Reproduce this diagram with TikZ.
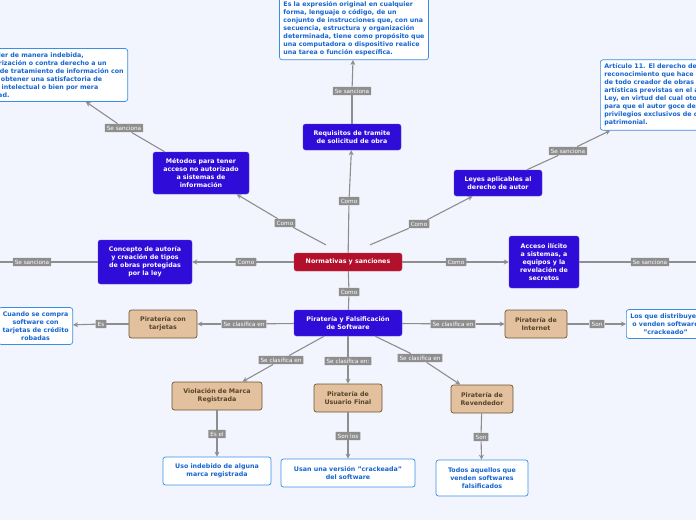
\documentclass[tikz,border=0pt]{standalone}
\usepackage{fontspec}
\setmainfont{DejaVu Sans}
\usetikzlibrary{arrows.meta}
\definecolor{bg}{HTML}{F2F5FE}
\definecolor{lg}{HTML}{8E8E8E}
\definecolor{bl}{HTML}{2F0CD8}
\definecolor{rd}{HTML}{B3102C}
\definecolor{tan}{HTML}{E3C19F}
\definecolor{brn}{HTML}{6B5535}
\definecolor{wb}{HTML}{3A8EE6}
\definecolor{wt}{HTML}{1565D0}
\tikzset{
 base/.style={rounded corners=2.5pt,align=center,font=\fontsize{6.3}{8}\selectfont\bfseries,inner sep=3pt},
 main/.style={base,fill=bl,draw=bl!80!white,text=white},
 root/.style={base,fill=rd,draw=rd!80!white,text=white},
 sub/.style={base,fill=tan,draw=brn,text=brn!80!black,line width=0.7pt},
 leaf/.style={base,fill=white,draw=wb,text=wt,line width=0.7pt,inner sep=4pt},
 lbl/.style={fill=lg,text=white,font=\fontsize{5.7}{6.5}\selectfont,inner sep=2pt,rounded corners=0.5pt},
 edge/.style={draw=lg,line width=1.1pt},
 arr/.style={edge,-{Stealth[length=5pt,width=5pt]}}
}
\begin{document}
\begin{tikzpicture}[x=1pt,y=-1pt]
\useasboundingbox (0,0) rectangle (696,520);
\fill[bg] (0,0) rectangle (696,520);
\clip (0,0) rectangle (696,520);
% nodes
\node[root,minimum width=108,minimum height=18] (c) at (348,262) {Normativas y sanciones};
\node[main,minimum width=98,minimum height=26] (req) at (352,137) {Requisitos de tramite\\de solicitud de obra};
\node[leaf,anchor=south,align=left] (top) at (354,60) {Es la expresión original en cualquier\\forma, lenguaje o código, de un\\conjunto de instrucciones que, con una\\secuencia, estructura y organización\\determinada, tiene como propósito que\\una computadora o dispositivo realice\\una tarea o función específica.};
\node[main,minimum width=96,minimum height=42] (met) at (201,173) {Métodos para tener\\acceso no autorizado\\a sistemas de\\información};
\node[leaf,anchor=east,align=left] (lt) at (128,75) {Es acceder de manera indebida,\\sin autorización o contra derecho a un\\sistema de tratamiento de información con\\el fin de obtener una satisfactoria de\\carácter intelectual o bien por mera\\curiosidad.};
\node[main,minimum width=88,minimum height=26] (ley) at (498,183) {Leyes aplicables al\\derecho de autor};
\node[leaf,anchor=west,align=left] (art) at (600,95) {Artículo 11. El derecho de autor es el\\reconocimiento que hace el Estado a favor\\de todo creador de obras literarias y\\artísticas previstas en el artículo 13 de esta\\Ley, en virtud del cual otorga su protección\\para que el autor goce de prerrogativas y\\privilegios exclusivos de carácter personal y\\patrimonial.};
\node[main,minimum width=94,minimum height=44] (con) at (145,262) {Concepto de autoría\\y creación de tipos\\de obras protegidas\\por la ley};
\node[main,minimum width=70,minimum height=52] (acc) at (544,262) {Acceso ilícito\\a sistemas, a\\equipos y la\\revelación de\\secretos};
\coordinate (le) at (0,262);
\coordinate (re) at (696,262);
\node[main,minimum width=108,minimum height=26] (pf) at (348,323) {Piratería y Falsificación\\de Software};
\node[sub,minimum width=68,minimum height=28] (tar) at (163,324) {Piratería con\\tarjetas};
\node[leaf,anchor=east] (tl) at (73,326) {Cuando se compra\\software con\\tarjetas de crédito\\robadas};
\node[sub,minimum width=62,minimum height=28] (int) at (536,324) {Piratería de\\Internet};
\node[leaf,anchor=west] (il) at (626,324) {Los que distribuyen\\o venden software\\"crackeado"};
\node[sub,minimum width=90,minimum height=28] (vio) at (217,396) {Violación de Marca\\Registrada};
\node[sub,minimum width=68,minimum height=28] (usu) at (348,398) {Piratería de\\Usuario Final};
\node[sub,minimum width=62,minimum height=28] (rev) at (482,399) {Piratería de\\Revendedor};
\node[leaf,minimum width=108,minimum height=28] (vl) at (217,471) {Uso indebido de alguna\\marca registrada};
\node[leaf,minimum width=134,minimum height=28] (ul) at (348,473) {Usan una versión "crackeada"\\del software};
\node[leaf,minimum width=92,minimum height=36] (rl) at (482,478) {Todos aquellos que\\venden softwares\\falsificados};
% labels
\node[lbl] (l1) at (349,201) {Como};
\node[lbl] (l2) at (352,91) {Se sanciona};
\node[lbl] (l3) at (285,223) {Como};
\node[lbl] (l4) at (124,128) {Se sanciona};
\node[lbl] (l5) at (419,224) {Como};
\node[lbl] (l6) at (568,151) {Se sanciona};
\node[lbl] (l7) at (246,262) {Como};
\node[lbl] (l8) at (32,262) {Se sanciona};
\node[lbl] (l9) at (456,262) {Como};
\node[lbl] (l10) at (650,262) {Se sanciona};
\node[lbl] (l11) at (349,292) {Como};
\node[lbl] (l12) at (244,324) {Se clasifica en};
\node[lbl] (l13) at (101,324) {Es};
\node[lbl] (l14) at (453,324) {Se clasifica en};
\node[lbl] (l15) at (597,324) {Son};
\node[lbl] (l16) at (281,360) {Se clasifica en};
\node[lbl] (l17) at (348,361) {Se clasifica en:};
\node[lbl] (l18) at (420,358) {Se clasifica en};
\node[lbl] (l19) at (217,434) {Es el};
\node[lbl] (l20) at (348,436) {Son los};
\node[lbl] (l21) at (481,437) {Son};
% edges
\draw[edge] (c) -- (l1); \draw[arr] (l1) -- (req);
\draw[edge] (req) -- (l2); \draw[arr] (l2) -- (top);
\draw[edge] (c.north west)++(32,-8) coordinate (cm1) -- (l3) ; \draw[arr] (l3) -- (met);
\draw[edge] (met) -- (l4); \draw[arr] (l4) -- (lt);
\draw[edge] (c.north east)++(-32,-8) coordinate (cm2) -- (l5); \draw[arr] (l5) -- (ley);
\draw[edge] (ley) -- (l6); \draw[arr] (l6) -- (art);
\draw[edge] (c) -- (l7); \draw[arr] (l7) -- (con);
\draw[edge] (con) -- (l8); \draw[edge] (l8) -- (le);
\draw[edge] (c) -- (l9); \draw[arr] (l9) -- (acc);
\draw[edge] (acc) -- (l10); \draw[edge] (l10) -- (re);
\draw[edge] (c) -- (l11); \draw[edge] (l11) -- (pf);
\draw[edge] (pf) -- (l12); \draw[arr] (l12) -- (tar);
\draw[edge] (tar) -- (l13); \draw[arr] (l13) -- (tl);
\draw[edge] (pf) -- (l14); \draw[arr] (l14) -- (int);
\draw[edge] (int) -- (l15); \draw[arr] (l15) -- (il);
\draw[edge] (pf) -- (l16); \draw[arr] (l16) -- (vio);
\draw[edge] (pf) -- (l17); \draw[arr] (l17) -- (usu);
\draw[edge] (pf) -- (l18); \draw[arr] (l18) -- (rev);
\draw[edge] (vio) -- (l19); \draw[arr] (l19) -- (vl);
\draw[edge] (usu) -- (l20); \draw[arr] (l20) -- (ul);
\draw[edge] (rev) -- (l21); \draw[arr] (l21) -- (rl);
\end{tikzpicture}
\end{document}
